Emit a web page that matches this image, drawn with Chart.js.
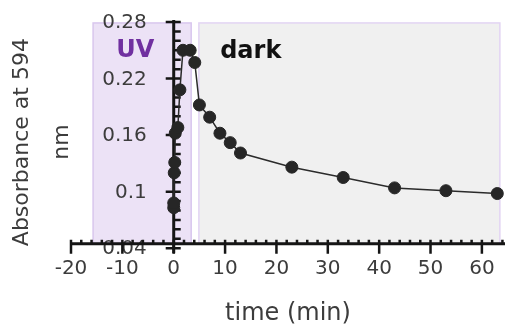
<!DOCTYPE html>
<html>
<head>
<meta charset="utf-8">
<script src="https://cdn.jsdelivr.net/npm/chart.js@4"></script>
<style>
  html, body { margin: 0; padding: 0; background: #fff; }
  #wrap { width: 505px; height: 325px; }
</style>
</head>
<body>
<div id="wrap"><canvas id="chart"></canvas></div>
<script>
// time after start (min) and absorbance at 594 nm
const times = [0, 0, 0.1, 0.2, 0.3, 0.8, 1.2, 1.8, 3.2, 4.1, 5, 7, 9, 11, 13, 23, 33, 43, 53, 63];
const absorbance = [0.083, 0.088, 0.120, 0.131, 0.162, 0.168, 0.208, 0.250, 0.250, 0.237,
                    0.192, 0.179, 0.162, 0.152, 0.141, 0.126, 0.115, 0.104, 0.101, 0.098];

// shaded phases (x ranges in min) and their labels
const uvSpan = [-15.7, 3.4];
const darkSpan = [4.9, 63.5];
const phaseY = [0.045, 0.279];
const phaseLabels = ['UV', 'dark'];

const xRange = [-20, 64.5];
const yRange = [0.04, 0.28];
const xCrossY = 0.0447;    // horizontal axis crosses here
const yTitle = ['Absorbance at 594', 'nm'];
const xTitle = 'time (min)';

const font = '"DejaVu Sans", Verdana, sans-serif';
const textColor = '#3c3c3c';
const fmt = (v) => String(+v.toFixed(2));

const decor = {
  id: 'decor',
  beforeDraw(chart) {
    const { ctx, scales: { x, y } } = chart;
    const box = (span, fill, stroke) => {
      const l = x.getPixelForValue(span[0]), r = x.getPixelForValue(span[1]);
      const t = y.getPixelForValue(phaseY[1]), b = y.getPixelForValue(phaseY[0]);
      ctx.fillStyle = fill;
      ctx.fillRect(l, t, r - l, b - t);
      ctx.strokeStyle = stroke;
      ctx.lineWidth = 1.5;
      ctx.strokeRect(l, t, r - l, b - t);
    };
    ctx.save();
    box(uvSpan, '#ece2f6', '#d9c7ee');
    box(darkSpan, '#f0f0f0', '#e2d4f3');

    ctx.font = 'bold 24px ' + font;
    ctx.textAlign = 'center';
    ctx.textBaseline = 'middle';
    ctx.fillStyle = '#7030a0';
    ctx.fillText(phaseLabels[0], x.getPixelForValue(-7.5), y.getPixelForValue(0.2497));
    ctx.fillStyle = '#111';
    ctx.fillText(phaseLabels[1], x.getPixelForValue(15), y.getPixelForValue(0.2487));

    // y axis title, two rotated lines
    ctx.fillStyle = textColor;
    ctx.font = '22px ' + font;
    const cy = (y.top + y.bottom) / 2 + 7;
    [22, 62].forEach((cx, i) => {
      ctx.save();
      ctx.translate(cx, cy);
      ctx.rotate(-Math.PI / 2);
      ctx.fillText(yTitle[i], 0, 0);
      ctx.restore();
    });

    // y tick labels sit left of the axis at x = 0
    const x0 = x.getPixelForValue(0);
    ctx.font = '20px ' + font;
    ctx.textAlign = 'right';
    y.ticks.forEach((t) => {
      ctx.fillText(fmt(t.value), x0 - 27, y.getPixelForValue(t.value) + 1);
    });
    ctx.restore();
  },
  beforeDatasetsDraw(chart) {
    const { ctx, scales: { x, y } } = chart;
    const x0 = x.getPixelForValue(0);
    const yb = y.getPixelForValue(xCrossY);
    ctx.save();
    ctx.strokeStyle = '#151515';
    ctx.lineWidth = 3;
    ctx.beginPath();
    ctx.moveTo(x.left, yb);
    ctx.lineTo(x.right, yb);
    ctx.moveTo(x0, y.top - 2);
    ctx.lineTo(x0, y.bottom + 5);
    ctx.stroke();

    ctx.lineWidth = 2.5;
    ctx.beginPath();
    for (let i = xRange[0] / 2; i * 2 <= xRange[1]; i++) {
      const px = x.getPixelForValue(i * 2);
      const major = (i * 2) % 10 === 0;
      ctx.moveTo(px, yb - 4);
      ctx.lineTo(px, major ? yb + 10 : yb);
    }
    for (let k = 4; k <= 28; k++) {
      const py = y.getPixelForValue(k / 100);
      const major = (k - 4) % 6 === 0;
      ctx.moveTo(major ? x0 - 8 : x0, py);
      ctx.lineTo(x0 + 7, py);
    }
    ctx.stroke();
    ctx.restore();
  }
};

new Chart(document.getElementById('chart'), {
  type: 'scatter',
  data: {
    datasets: [{
      data: times.map((t, i) => ({ x: t, y: absorbance[i] })),
      showLine: true,
      borderColor: '#2b2b2b',
      borderWidth: 1.5,
      backgroundColor: '#262626',
      pointBackgroundColor: '#262626',
      pointBorderColor: '#262626',
      pointBorderWidth: 1,
      pointRadius: 6
    }]
  },
  options: {
    responsive: true,
    maintainAspectRatio: false,
    animation: false,
    layout: { autoPadding: false, padding: { left: 71, top: 22, right: 0, bottom: 0 } },
    plugins: { legend: { display: false }, tooltip: { enabled: false } },
    scales: {
      x: {
        type: 'linear',
        position: 'bottom',
        min: xRange[0],
        max: xRange[1],
        grid: { display: false, drawTicks: true, tickLength: 4 },
        border: { display: false },
        ticks: { stepSize: 10, includeBounds: false, padding: 5, color: textColor, font: { family: font, size: 20 } },
        title: { display: true, text: xTitle, color: textColor, font: { family: font, size: 24 }, padding: { top: 13, bottom: -3 } }
      },
      y: {
        type: 'linear',
        position: 'left',
        min: yRange[0],
        max: yRange[1],
        grid: { display: false, drawTicks: false },
        border: { display: false },
        ticks: { display: false, stepSize: 0.06 }
      }
    }
  },
  plugins: [decor]
});
</script>
</body>
</html>
